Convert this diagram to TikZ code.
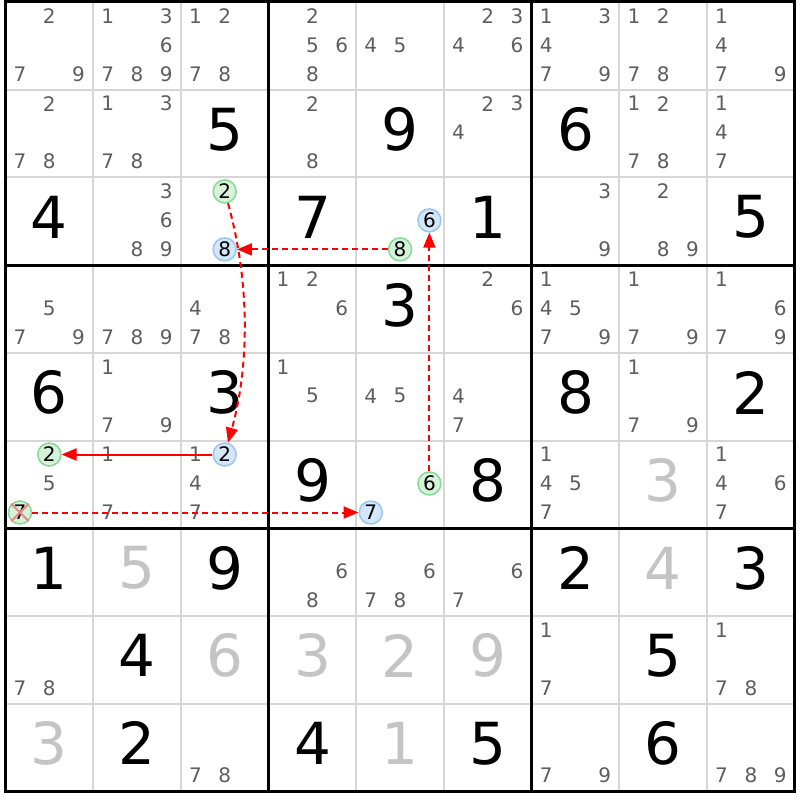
\documentclass[tikz,border=0pt]{standalone}
\usepackage{fontspec}
\setmainfont{DejaVu Sans}
\usetikzlibrary{arrows.meta}

\definecolor{candgray}{HTML}{5E5E5E}
\definecolor{solvedgray}{HTML}{C4C4C4}
\definecolor{gridgray}{HTML}{D6D6D6}
\definecolor{ongreen}{HTML}{D6F2D9}
\definecolor{ongreenline}{HTML}{86D895}
\definecolor{offblue}{HTML}{D3E6FA}
\definecolor{offblueline}{HTML}{98C6F2}
\definecolor{crossred}{HTML}{EC8686}
\definecolor{chainred}{HTML}{FF0000}

\newcommand{\cellsz}{87.7}

\begin{document}
\begin{tikzpicture}[
  x=1pt,y=-1pt,
  given/.style={inner sep=0pt,font=\fontsize{58}{58}\selectfont},
  solved/.style={given,text=solvedgray},
  cand/.style={inner sep=0pt,text=candgray,font=\fontsize{20}{20}\selectfont},
  oncand/.style={circle,draw=ongreenline,fill=ongreen,line width=1.5pt,minimum size=23pt,inner sep=0pt,font=\fontsize{20}{20}\selectfont},
  offcand/.style={oncand,draw=offblueline,fill=offblue},
  link/.style={draw=chainred,line width=2pt,-{Triangle[length=15pt,width=12pt]}},
  weak/.style={link,dash pattern=on 6pt off 4pt}
]
\fill[white] (0,0) rectangle (800,800);
\useasboundingbox (0,0) rectangle (800,800);

% cell lines, then box lines
\foreach \i in {1,2,4,5,7,8} {
  \draw[gridgray,line width=2pt] ({5.5+\i*\cellsz},2) -- ({5.5+\i*\cellsz},{2+9*\cellsz});
  \draw[gridgray,line width=2pt] (5.5,{2+\i*\cellsz}) -- ({5.5+9*\cellsz},{2+\i*\cellsz});
}
\foreach \i in {0,3,6,9} {
  \draw[black,line width=3pt] ({5.5+\i*\cellsz},0.5) -- ({5.5+\i*\cellsz},{3.5+9*\cellsz});
  \draw[black,line width=3pt] (4,{2+\i*\cellsz}) -- ({7+9*\cellsz},{2+\i*\cellsz});
}

% givens
\foreach \r/\c/\v in {2/3/5, 2/5/9, 2/7/6, 3/1/4, 3/4/7, 3/6/1, 3/9/5, 4/5/3, 5/1/6, 5/3/3, 5/7/8, 5/9/2,
    6/4/9, 6/6/8, 7/1/1, 7/3/9, 7/7/2, 7/9/3, 8/2/4, 8/8/5, 9/2/2, 9/4/4, 9/6/5, 9/8/6}
  \node[given] (g\r\c) at ({5.5+(\c-.5)*\cellsz},{2+(\r-.5)*\cellsz-4}) {\v};

% solved
\foreach \r/\c/\v in {6/8/3, 7/2/5, 7/8/4, 8/3/6, 8/4/3, 8/5/2, 8/6/9, 9/1/3, 9/5/1}
  \node[solved] (g\r\c) at ({5.5+(\c-.5)*\cellsz},{2+(\r-.5)*\cellsz-4}) {\v};

% candidates
\foreach \r/\c/\ks in {1/1/{2,7,9}, 1/2/{1,3,6,7,8,9}, 1/3/{1,2,7,8}, 1/4/{2,5,6,8}, 1/5/{4,5},
    1/6/{2,3,4,6}, 1/7/{1,3,4,7,9}, 1/8/{1,2,7,8}, 1/9/{1,4,7,9},
    2/1/{2,7,8}, 2/2/{1,3,7,8}, 2/4/{2,8}, 2/6/{2,3,4}, 2/8/{1,2,7,8}, 2/9/{1,4,7},
    3/2/{3,6,8,9}, 3/7/{3,9}, 3/8/{2,8,9},
    4/1/{5,7,9}, 4/2/{7,8,9}, 4/3/{4,7,8}, 4/4/{1,2,6}, 4/6/{2,6}, 4/7/{1,4,5,7,9}, 4/8/{1,7,9}, 4/9/{1,6,7,9},
    5/2/{1,7,9}, 5/4/{1,5}, 5/5/{4,5}, 5/6/{4,7}, 5/8/{1,7,9},
    6/1/{5}, 6/2/{1,7}, 6/3/{1,4,7}, 6/7/{1,4,5,7}, 6/9/{1,4,6,7},
    7/4/{6,8}, 7/5/{6,7,8}, 7/6/{6,7},
    8/1/{7,8}, 8/7/{1,7}, 8/9/{1,7,8},
    9/3/{7,8}, 9/7/{7,9}, 9/9/{7,8,9}}
  \foreach \k in \ks
    \node[cand] (c\r\c\k) at ({5.5+(\c-1)*\cellsz+14.5+29.3*mod(\k-1,3)},{2+(\r-1)*\cellsz+14+29*floor((\k-1)/3)}) {\k};

% marked candidates
\foreach \r/\c/\k/\s in {3/3/2/oncand, 3/3/8/offcand, 3/5/8/oncand, 3/5/6/offcand, 6/3/2/offcand,
    6/1/2/oncand, 6/1/7/oncand, 6/5/6/oncand, 6/5/7/offcand}
  \node[\s] (c\r\c\k) at ({5.5+(\c-1)*\cellsz+14.5+29.3*mod(\k-1,3)},{2+(\r-1)*\cellsz+14+29*floor((\k-1)/3)}) {\k};

% eliminated 7
\draw[crossred,line width=1.8pt] (c617.north west) -- (c617.south east) (c617.north east) -- (c617.south west);

% chain
\draw[weak] (c332) .. controls +(25,90) and +(25,-90) .. (c632);
\draw[weak] (c358) -- (c338);
\draw[weak] (c656) -- (c356);
\draw[link] (c632) -- (c612);
\draw[weak] (c617) -- (c657);
\end{tikzpicture}
\end{document}
